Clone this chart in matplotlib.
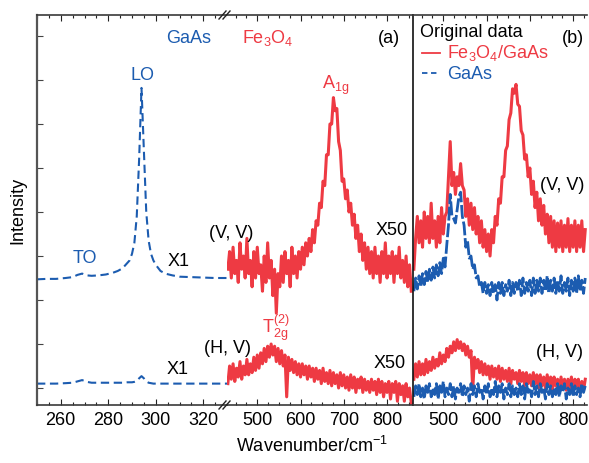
import numpy as np
import matplotlib
matplotlib.use('Agg')
import matplotlib.pyplot as plt
from matplotlib.ticker import MultipleLocator

plt.rcParams['font.family'] = 'Liberation Sans'
plt.rcParams['mathtext.fontset'] = 'custom'
plt.rcParams['mathtext.rm'] = 'Liberation Sans'
plt.rcParams['mathtext.default'] = 'regular'

RED = '#ee3a43'
BLUE = '#1c5cb0'

# --- panel (a), GaAs region (smooth spectra, X1) ---
gaas_wn = [250, 254, 258, 262, 265, 267, 269, 271, 273, 276,
           279, 282, 284, 286, 288, 289, 290, 291, 292, 293,
           294, 295, 296, 297, 298, 299, 300, 302, 304, 307,
           310, 315, 320, 325, 330]
gaas_vv = [2.47, 2.48, 2.48, 2.5, 2.52, 2.57, 2.6, 2.56, 2.55, 2.56,
           2.58, 2.62, 2.66, 2.72, 2.84, 2.9, 3.05, 3.3, 3.9, 5.2,
           6.82, 5.4, 4.0, 3.35, 3.05, 2.9, 2.8, 2.66, 2.6, 2.56,
           2.53, 2.52, 2.51, 2.5, 2.5]
gaas_hv = [0.1, 0.1, 0.1, 0.11, 0.12, 0.15, 0.18, 0.14, 0.12, 0.12,
           0.12, 0.12, 0.12, 0.12, 0.13, 0.13, 0.13, 0.14, 0.16, 0.22,
           0.27, 0.22, 0.15, 0.12, 0.11, 0.1, 0.1, 0.1, 0.1, 0.1,
           0.1, 0.1, 0.1, 0.1, 0.1]

# --- panel (a), Fe3O4 region (X50), sampled every 4 cm-1 from 432 ---
fe_vv_a = [2.7, 3.1, 2.5, 3.2, 2.6, 2.9, 2.4, 3.3, 2.7, 3.0,
           2.5, 3.4, 2.6, 2.9, 2.3, 3.1, 2.5, 3.2, 2.6, 2.8,
           2.2, 3.0, 2.4, 3.3, 2.5, 2.9, 2.1, 2.7, 1.7, 2.6,
           2.3, 3.0, 2.4, 3.1, 2.6, 2.9, 2.3, 3.2, 2.6, 3.0,
           2.5, 3.1, 2.7, 3.2, 2.8, 3.3, 3.0, 3.4, 3.1, 3.6,
           3.3, 3.8, 3.7, 4.2, 4.1, 4.7, 4.6, 5.3, 5.3, 6.0,
           6.0, 6.6, 6.3, 6.35, 5.6, 5.4, 4.7, 4.75, 4.3, 4.5,
           4.0, 4.2, 3.7, 3.95, 3.4, 3.7, 3.1, 3.5, 2.9, 3.3,
           2.7, 3.2, 2.6, 3.1, 2.5, 3.2, 2.6, 3.0, 2.4, 3.1,
           2.6, 3.3, 2.5, 3.0, 2.6, 3.1, 2.4, 3.0, 2.6, 3.2,
           2.5, 2.9, 2.4, 3.0, 2.3, 2.8, 2.2]
fe_hv_a = [0.1, 0.5, 0.2, 0.55, 0.15, 0.45, 0.25, 0.6, 0.2, 0.5,
           0.3, 0.65, 0.3, 0.55, 0.35, 0.7, 0.4, 0.75, 0.45, 0.8,
           0.55, 0.9, 0.6, 0.95, 0.7, 1.0, 0.75, 0.95, 0.6, 0.9,
           0.55, 0.85, 0.5, 0.75, -0.2, 0.7, 0.4, 0.65, 0.35, 0.6,
           0.3, 0.55, 0.25, 0.55, 0.3, 0.5, 0.2, 0.5, 0.25, 0.45,
           0.15, 0.45, 0.2, 0.4, 0.1, 0.45, 0.15, 0.35, 0.1, 0.4,
           0.05, 0.35, 0.1, 0.3, 0.0, 0.35, 0.05, 0.3, 0.0, 0.25,
           -0.05, 0.3, 0.0, 0.25, -0.1, 0.2, 0.0, 0.25, -0.1, 0.2,
           -0.05, 0.15, -0.1, 0.2, -0.05, 0.15, -0.15, 0.2, -0.1, 0.15,
           -0.2, 0.1, -0.1, 0.15, -0.25, 0.1, -0.1, 0.15, -0.3, 0.1,
           -0.15, 0.05, -0.3, 0.1, -0.2, 0.0, -0.35]

# --- panel (b), original data, sampled every 4 cm-1 from 432 ---
fe_vv_b = [2.7, 3.4, 3.9, 3.3, 3.8, 3.2, 4.0, 3.4, 3.9, 3.3,
           4.2, 3.4, 3.8, 3.2, 3.9, 3.3, 4.1, 3.5, 3.9, 4.0,
           4.8, 5.6, 4.6, 4.9, 4.4, 4.8, 4.6, 5.1, 4.6, 4.5,
           3.9, 4.3, 3.7, 4.2, 3.6, 4.1, 3.5, 3.9, 3.3, 3.8,
           3.2, 3.6, 3.1, 3.5, 3.0, 3.6, 3.3, 3.9, 3.7, 4.3,
           4.2, 4.8, 4.8, 5.4, 5.5, 6.1, 6.25, 6.8, 6.7, 6.9,
           6.45, 6.4, 5.85, 5.75, 5.2, 5.3, 4.8, 5.0, 4.4, 4.7,
           4.1, 4.45, 3.8, 4.3, 3.7, 4.15, 3.5, 3.95, 3.3, 3.9,
           3.2, 3.8, 3.1, 3.75, 3.2, 3.8, 3.1, 3.7, 3.2, 3.85,
           3.1, 3.7, 3.2, 3.8, 3.1, 3.7, 3.2, 3.8, 3.1, 3.6]
gaas_vv_b = [2.2, 2.5, 2.25, 2.55, 2.3, 2.6, 2.35, 2.65, 2.4, 2.7,
             2.45, 2.75, 2.5, 2.8, 2.55, 2.85, 2.6, 2.95, 2.75, 3.25,
             3.7, 4.4, 3.9, 3.85, 3.75, 4.05, 4.35, 4.45, 3.9, 3.7,
             3.2, 3.35, 2.95, 3.0, 2.7, 2.8, 2.5, 2.55, 2.3, 2.4,
             2.15, 2.4, 2.15, 2.35, 2.1, 2.4, 2.15, 2.35, 2.0, 2.4,
             2.15, 2.4, 2.1, 2.35, 2.2, 2.45, 2.1, 2.4, 2.15, 2.4,
             2.2, 2.45, 2.1, 2.5, 2.15, 2.4, 2.2, 2.45, 2.1, 2.5,
             2.15, 2.45, 2.2, 2.5, 2.15, 2.45, 2.2, 2.55, 2.15, 2.45,
             2.2, 2.5, 2.15, 2.45, 2.2, 2.55, 2.15, 2.4, 2.2, 2.5,
             2.1, 2.45, 2.2, 2.5, 2.15, 2.55, 2.2, 2.45, 2.15, 2.5]
fe_hv_b = [0.2, 0.55, 0.25, 0.6, 0.3, 0.55, 0.3, 0.65, 0.35, 0.6,
           0.4, 0.7, 0.45, 0.65, 0.5, 0.8, 0.55, 0.75, 0.6, 0.9,
           0.7, 0.95, 0.8, 1.05, 0.85, 1.1, 0.9, 1.05, 0.85, 1.0,
           0.75, 0.95, 0.7, 0.85, -0.05, 0.7, 0.45, 0.65, 0.35, 0.6,
           0.3, 0.55, 0.3, 0.5, 0.2, 0.5, 0.25, 0.45, 0.2, 0.5,
           0.15, 0.45, 0.2, 0.4, 0.15, 0.45, 0.1, 0.4, 0.2, 0.35,
           0.1, 0.4, 0.15, 0.35, 0.05, 0.35, 0.1, 0.3, 0.05, 0.35,
           0.1, 0.3, 0.0, 0.3, 0.05, 0.25, 0.0, 0.3, 0.05, 0.25,
           -0.05, 0.25, 0.05, 0.2, -0.05, 0.25, 0.0, 0.2, -0.05, 0.2,
           0.0, 0.25, -0.1, 0.2, 0.0, 0.2, -0.1, 0.15, -0.05, 0.2]
gaas_hv_b = [-0.2, 0.05, -0.15, 0.1, -0.2, 0.0, -0.25, 0.05, -0.1, 0.1,
             -0.2, 0.0, -0.15, 0.1, -0.25, 0.05, -0.1, 0.15, -0.2, 0.0,
             -0.15, 0.1, -0.2, 0.05, -0.25, 0.0, -0.1, 0.1, -0.2, 0.05,
             -0.15, 0.0, -0.3, 0.1, -0.15, 0.05, -0.2, 0.1, -0.1, 0.0,
             -0.25, 0.05, -0.15, 0.1, -0.2, 0.0, -0.15, 0.15, -0.2, 0.05,
             -0.1, 0.1, -0.25, 0.0, -0.15, 0.1, -0.2, 0.05, -0.15, 0.0,
             -0.2, 0.1, -0.15, 0.05, -0.25, 0.1, -0.1, 0.0, -0.2, 0.15,
             -0.15, 0.05, -0.2, 0.1, -0.1, 0.0, -0.25, 0.1, -0.15, 0.05,
             -0.2, 0.0, -0.15, 0.1, -0.2, 0.05, -0.1, 0.1, -0.25, 0.0,
             -0.15, 0.1, -0.2, 0.05, -0.15, 0.0, -0.2, 0.1, -0.1, 0.05]

wn_a = 432 + 4 * np.arange(len(fe_vv_a))
wn_b = 432 + 4 * np.arange(len(fe_vv_b))

W, H = 589, 463
fig = plt.figure(figsize=(W / 100, H / 100), dpi=100)


def px_rect(x0, x1, top=15, bottom=405):
    return [x0 / W, 1 - bottom / H, (x1 - x0) / W, (bottom - top) / H]


def ftext(x, y, s, **kw):
    kw.setdefault('fontsize', 13)
    kw.setdefault('va', 'baseline')
    fig.text(x / W, 1 - y / H, s, **kw)


ax1 = fig.add_axes(px_rect(37, 227))
ax2 = fig.add_axes(px_rect(227, 413))
ax3 = fig.add_axes(px_rect(413, 587))

dash_kw = dict(color=BLUE, lw=1.5, dashes=(4, 2.2))
ax1.plot(gaas_wn, gaas_vv, **dash_kw)
ax1.plot(gaas_wn, gaas_hv, **dash_kw)

ax2.plot(wn_a, fe_vv_a, color=RED, lw=2.2)
ax2.plot(wn_a, fe_hv_a, color=RED, lw=2.2)

ax3.plot(wn_b, fe_vv_b, color=RED, lw=2.2)
ax3.plot(wn_b, fe_hv_b, color=RED, lw=2.2)
ax3.plot(wn_b, gaas_vv_b, color=BLUE, lw=2.0, dashes=(5, 1))
ax3.plot(wn_b, gaas_hv_b, color=BLUE, lw=2.0, dashes=(5, 1))

ax1.set_xlim(250, 330)
ax2.set_xlim(430, 860)
ax3.set_xlim(430, 832)

for ax in (ax1, ax2, ax3):
    ax.set_ylim(-0.386, 8.477)
    for sp in ax.spines.values():
        sp.set_color('#3a3a3a')
        sp.set_linewidth(1.2)
    ax.spines['right'].set_visible(False)
    ax.tick_params(axis='x', which='both', direction='in', top=True, bottom=True,
                   labelsize=13, pad=5, color='#222222', width=0.8)
    ax.tick_params(axis='x', which='major', length=4)
    ax.tick_params(axis='x', which='minor', length=2.5)

ax1.xaxis.set_major_locator(MultipleLocator(20))
ax1.xaxis.set_minor_locator(MultipleLocator(5))
for ax in (ax2, ax3):
    ax.xaxis.set_major_locator(MultipleLocator(100))
    ax.xaxis.set_minor_locator(MultipleLocator(25))
    ax.set_yticks([])

ax1.set_yticks(range(0, 9))
ax1.set_yticklabels([])
ax1.tick_params(axis='y', direction='in', length=4, width=0.8, color='#444444')
ax1.spines['left'].set_color('#555555')
ax1.spines['left'].set_linewidth(1.6)
ax2.spines['left'].set_visible(False)
ax3.spines['left'].set_color('#111111')
ax3.spines['left'].set_linewidth(1.2)

# axis break marks
for yb in (15, 405):
    for dx in (-3, 1):
        fig.add_artist(plt.Line2D([(222 + dx) / W, (229 + dx) / W],
                                  [1 - (yb + 4) / H, 1 - (yb - 4) / H],
                                  color='#222222', lw=1.0))

# labels
ftext(18, 210, 'Intensity', rotation=90, ha='center', va='center')
ftext(312, 452, 'Wavenumber/cm$^{-1}$', ha='center')

ftext(189, 43, 'GaAs', color=BLUE, ha='center')
ftext(242, 43, 'Fe$_3$O$_4$', color=RED, ha='left')
ftext(389, 43, '(a)', ha='center')
ftext(573, 43, '(b)', ha='center')
ftext(142, 80, 'LO', color=BLUE, ha='center')
ftext(85, 263, 'TO', color=BLUE, ha='center')
ftext(179, 266, 'X1', ha='center')
ftext(178, 374, 'X1', ha='center')
ftext(231, 238, '(V, V)', ha='center')
ftext(228, 353, '(H, V)', ha='center')
ftext(392, 235, 'X50', ha='center')
ftext(390, 368, 'X50', ha='center')
ftext(322, 89, 'A$_{1g}$', color=RED, ha='left')
ftext(262, 333, 'T$_{2g}^{(2)}$', color=RED, ha='left')
ftext(562, 190, '(V, V)', ha='center')
ftext(560, 357, '(H, V)', ha='center')

# legend of panel (b)
ftext(420, 37, 'Original data', ha='left')
fig.add_artist(plt.Line2D([422 / W, 440 / W], [1 - 53 / H, 1 - 53 / H], color=RED, lw=1.3))
fig.add_artist(plt.Line2D([422 / W, 440 / W], [1 - 73 / H, 1 - 73 / H], color=BLUE, lw=1.3,
                          dashes=(3, 2)))
ftext(447, 58, 'Fe$_3$O$_4$/GaAs', color=RED, ha='left')
ftext(447, 79, 'GaAs', color=BLUE, ha='left')

fig.savefig('out.png', dpi=100)
